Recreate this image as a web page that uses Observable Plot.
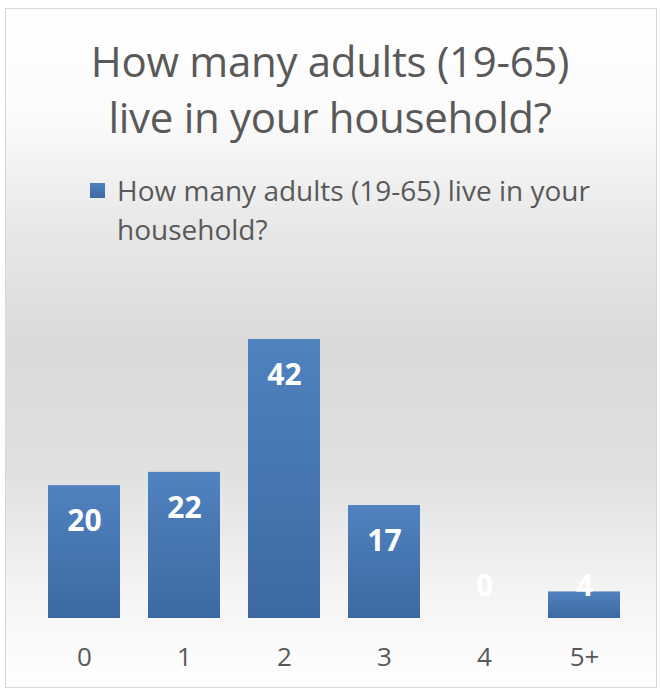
<!DOCTYPE html>
<html><head><meta charset="utf-8">
<script src="https://cdn.jsdelivr.net/npm/d3@7"></script>
<script src="https://cdn.jsdelivr.net/npm/@observablehq/plot@0.6"></script>
<style>
body{margin:0;background:#fff;}
#chart{position:relative;width:660px;height:691px;overflow:hidden;font-family:"Open Sans",sans-serif;}
#bg{position:absolute;left:5px;top:8px;width:650px;height:678px;border:1px solid #d9d9d9;
background:linear-gradient(to bottom,#ffffff 0%,#fbfbfb 16%,#e8e8e8 32%,#dadada 50%,#e0e0e0 68%,#f4f4f4 86%,#ffffff 100%);}
#title{position:absolute;left:0;width:660px;top:33px;text-align:center;color:#595959;font-size:42px;line-height:56px;letter-spacing:-0.3px;}
#legend{position:absolute;left:117px;top:171px;color:#595959;font-size:28px;line-height:39px;}
#legend .sw{position:absolute;left:-27px;top:12px;width:15px;height:15px;background:linear-gradient(to bottom,#4f81bd,#3d69a4);}
#plot{position:absolute;left:0;top:0;}
</style></head>
<body>
<div id="chart">
  <div id="bg"></div>
  <div id="title">How many adults (19-65)<br>live in your household?</div>
  <div id="legend"><span class="sw"></span>How many adults (19-65) live in your<br>household?</div>
  <div id="plot"></div>
</div>
<script>
const categories = ["0","1","2","3","4","5+"];
const values = [20,22,42,17,0,4];
const data = categories.map((c,i)=>({cat:c, value:values[i]}));

const chart = Plot.plot({
  width:660, height:691,
  marginTop:339, marginBottom:73, marginLeft:34, marginRight:26,
  style:{background:"transparent", color:"#595959", fontFamily:"Open Sans, sans-serif"},
  x:{domain:categories, paddingInner:0.28, paddingOuter:0.14, label:null},
  y:{domain:[0,42], axis:null},
  marks:[
    Plot.barY(data,{x:"cat", y:"value", fill:"url(#barGrad)"}),
    Plot.text(data,{x:"cat", y:d=>Math.max(d.value,10.2), text:d=>String(d.value), dy:36, fill:"white", fontWeight:"bold", fontSize:30}),
    Plot.axisX({tickSize:0, tickPadding:29, fontSize:26, label:null})
  ]
});
d3.select(chart).insert("defs",":first-child").html(
  '<linearGradient id="barGrad" x1="0" y1="0" x2="0" y2="1"><stop offset="0" stop-color="#4f82bf"/><stop offset="1" stop-color="#3d69a3"/></linearGradient>');
document.getElementById("plot").appendChild(chart);
</script>
</body></html>
